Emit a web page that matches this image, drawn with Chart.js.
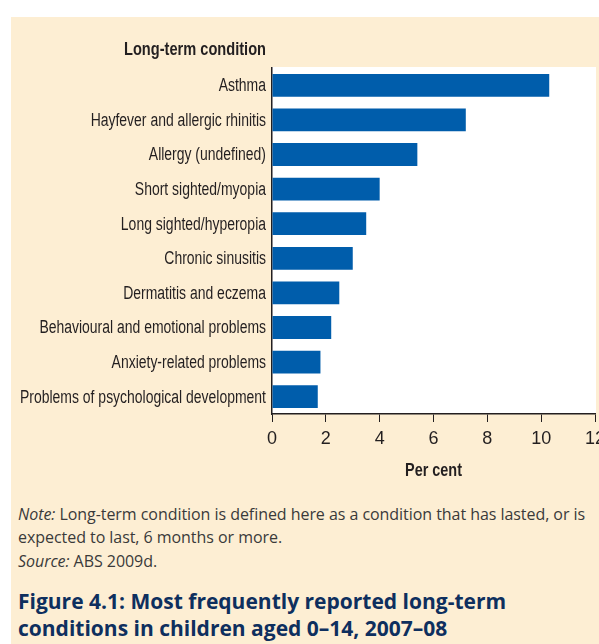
<!DOCTYPE html>
<html>
<head>
<meta charset="utf-8">
<script src="https://cdn.jsdelivr.net/npm/chart.js@4/dist/chart.umd.min.js"></script>
<style>
  html, body { margin: 0; padding: 0; background: #fff; overflow: hidden; width: 599px; height: 644px; }
  #panel { position: absolute; left: 11px; top: 17px; width: 600px; height: 640px; background: #fdeed3; }
  #chartBox { position: absolute; left: 0; top: 0; width: 620px; height: 490px; }
  #note { position: absolute; left: 18px; top: 503px; width: 590px; font: 16px 'Open Sans', sans-serif; color: #3a3a3a; line-height: 23px; letter-spacing: -0.05px; }
  #note p { margin: 0 0 1px 0; }
  #caption { position: absolute; left: 18px; top: 588px; width: 590px; font: bold 21px 'Open Sans', sans-serif; color: #0e2f5e; line-height: 27px; white-space: nowrap; }
</style>
</head>
<body>
<div id="panel"></div>
<div id="chartBox"><canvas id="conditionChart"></canvas></div>
<div id="note">
  <p><i>Note:</i> Long-term condition is defined here as a condition that has lasted, or is expected to last, 6 months or more.</p>
  <p><i>Source:</i> ABS 2009d.</p>
</div>
<div id="caption">Figure 4.1: Most frequently reported long-term<br>conditions in children aged 0–14, 2007–08</div>

<script>
// long-term conditions in children, per cent

const conditions = [
    'Asthma',
    'Hayfever and allergic rhinitis',
    'Allergy (undefined)',
    'Short sighted/myopia',
    'Long sighted/hyperopia',
    'Chronic sinusitis',
    'Dermatitis and eczema',
    'Behavioural and emotional problems',
    'Anxiety-related problems',
    'Problems of psychological development'
];
const perCent = [10.3, 7.2, 5.4, 4.0, 3.5, 3.0, 2.5, 2.2, 1.8, 1.7];
const xTicks = [0, 2, 4, 6, 8, 10, 12];

const labelFont = "'Liberation Sans', Arial, sans-serif";
const inkColour = '#231f20';

// white plot background behind the bars
const plotBackground = {
    id: 'plotBackground',
    beforeDraw(chart) {
        const area = chart.chartArea;
        const ctx = chart.ctx;
        ctx.save();
        ctx.fillStyle = '#ffffff';
        ctx.fillRect(area.left, area.top - 1, area.right - area.left + 1, area.bottom - area.top + 1);
        ctx.restore();
    }
};

// the source uses a condensed face, so squeeze the text horizontally
function squeezedText(ctx, text, x, y, width, align) {
    const squeeze = width / ctx.measureText(text).width;
    ctx.save();
    ctx.translate(x, y);
    ctx.scale(squeeze, 1);
    ctx.textAlign = align;
    ctx.fillText(text, 0, 0);
    ctx.restore();
}

const condensedLabels = {
    id: 'condensedLabels',
    afterDraw(chart) {
        const ctx = chart.ctx;
        const yScale = chart.scales.y;
        const area = chart.chartArea;
        ctx.save();
        ctx.fillStyle = inkColour;
        ctx.textBaseline = 'middle';
        ctx.font = '18px ' + labelFont;
        const widest = Math.max(...conditions.map(c => ctx.measureText(c).width));
        const squeeze = 246 / widest;
        conditions.forEach((c, i) => {
            const w = ctx.measureText(c).width * squeeze;
            squeezedText(ctx, c, area.left - 6, yScale.getPixelForValue(i) + 1, w, 'right');
        });
        ctx.font = 'bold 18px ' + labelFont;
        squeezedText(ctx, 'Long-term condition', area.left - 6, area.top - 18, 142, 'right');
        squeezedText(ctx, 'Per cent', (area.left + area.right) / 2, area.bottom + 57, 57, 'center');
        ctx.restore();
    }
};

const ctx = document.getElementById('conditionChart').getContext('2d');
new Chart(ctx, {
    type: 'bar',
    data: {
        labels: conditions,
        datasets: [{
            label: 'Per cent',
            data: perCent,
            backgroundColor: '#005dab',
            borderWidth: 0,
            barPercentage: 0.66,
            categoryPercentage: 1.0
        }]
    },
    options: {
        indexAxis: 'y',
        responsive: true,
        maintainAspectRatio: false,
        animation: false,
        layout: {
            padding: { top: 68, left: 0, right: 25, bottom: 0 }
        },
        plugins: {
            legend: { display: false },
            tooltip: { enabled: false }
        },
        scales: {
            x: {
                min: 0,
                max: 12,
                afterBuildTicks(scale) {
                    scale.ticks = xTicks.map(v => ({ value: v }));
                },
                afterFit(scale) {
                    scale.height = 76;
                    scale.paddingRight = 0;
                    scale.paddingLeft = 0;
                },
                grid: {
                    drawOnChartArea: false,
                    drawTicks: true,
                    tickLength: 8,
                    color: inkColour,
                    lineWidth: 1
                },
                border: { display: true, color: inkColour, width: 1.5 },
                ticks: {
                    color: inkColour,
                    padding: 6,
                    maxRotation: 0,
                    font: { family: labelFont, size: 18 }
                }
            },
            y: {
                afterFit(scale) {
                    scale.width = 272;
                },
                grid: { display: false, drawTicks: false },
                border: { display: true, color: inkColour, width: 1.5 },
                ticks: { display: false }
            }
        }
    },
    plugins: [plotBackground, condensedLabels]
});
</script>
</body>
</html>
